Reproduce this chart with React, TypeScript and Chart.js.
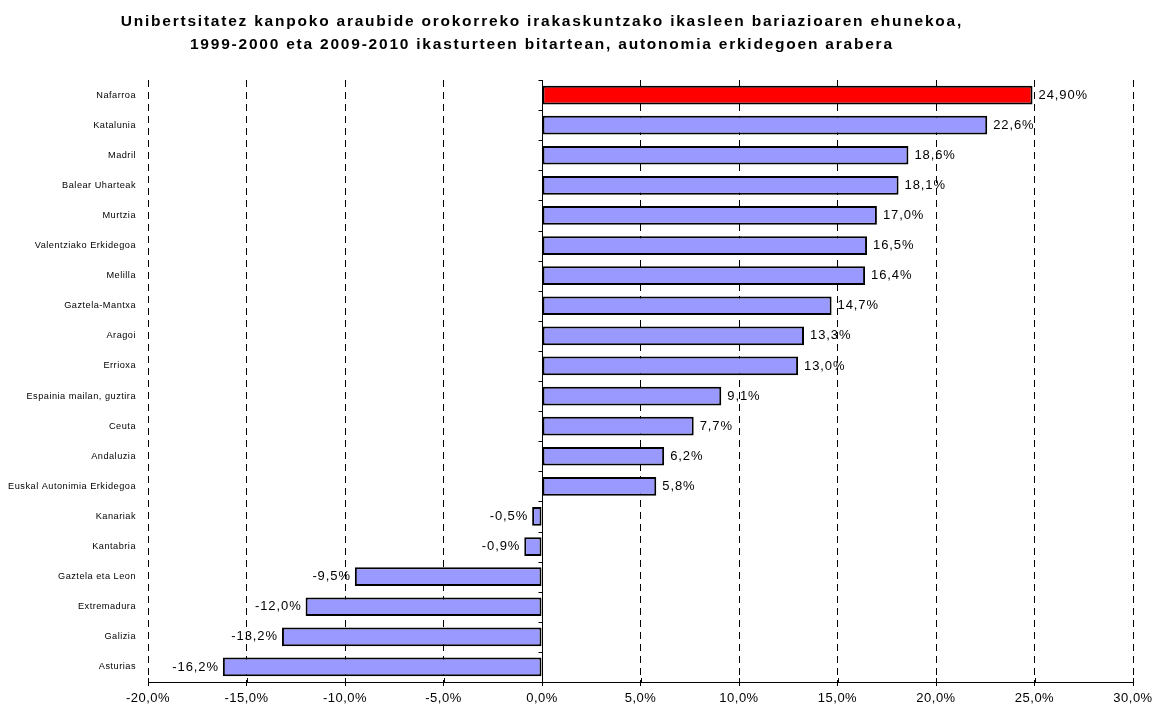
import { useEffect, useRef } from 'react';
import { Chart, registerables } from 'chart.js';

Chart.register(...registerables);

const categories = [
  'Nafarroa',
  'Katalunia',
  'Madril',
  'Balear Uharteak',
  'Murtzia',
  'Valentziako Erkidegoa',
  'Melilla',
  'Gaztela-Mantxa',
  'Aragoi',
  'Errioxa',
  'Espainia mailan, guztira',
  'Ceuta',
  'Andaluzia',
  'Euskal Autonimia Erkidegoa',
  'Kanariak',
  'Kantabria',
  'Gaztela eta Leon',
  'Extremadura',
  'Galizia',
  'Asturias',
];

const values = [24.9, 22.6, 18.6, 18.1, 17.0, 16.5, 16.4, 14.7, 13.3, 13.0, 9.1, 7.7, 6.2, 5.8, -0.5, -0.9, -9.5, -12.0, -13.2, -16.2];

const valueLabels = ['24,90%', '22,6%', '18,6%', '18,1%', '17,0%', '16,5%', '16,4%', '14,7%', '13,3%', '13,0%', '9,1%', '7,7%', '6,2%', '5,8%', '-0,5%', '-0,9%', '-9,5%', '-12,0%', '-13,2%', '-16,2%'];

const highlighted = ['Nafarroa'];

const xMin = -20;
const xMax = 30;
const xStep = 5;

const titleLines = [
  'Unibertsitatez kanpoko araubide orokorreko irakaskuntzako ikasleen bariazioaren ehunekoa,',
  '1999-2000 eta 2009-2010 ikasturteen bitartean, autonomia erkidegoen arabera',
];

const FONT = '"Liberation Sans", Arial, sans-serif';

const fmtPct = (v: number) => v.toFixed(1).replace('.', ',') + '%';

const titlePlugin = {
  id: 'customTitle',
  afterDraw(chart: any) {
    const ctx = chart.ctx;
    ctx.save();
    ctx.font = `bold 15.5px ${FONT}`;
    (ctx as any).letterSpacing = '0px';
    const w0 = ctx.measureText(titleLines[0]).width;
    const spacing = Math.max(0, (842 - w0) / titleLines[0].length);
    (ctx as any).letterSpacing = spacing.toFixed(2) + 'px';
    ctx.fillStyle = '#000';
    ctx.textAlign = 'center';
    ctx.textBaseline = 'middle';
    ctx.fillText(titleLines[0], 541 + spacing / 2, 22);
    ctx.fillText(titleLines[1], 541 + spacing / 2, 45);
    ctx.restore();
  },
};

const letterSpacingPlugin = {
  id: 'letterSpacing',
  beforeDraw(chart: any) {
    (chart.ctx as any).letterSpacing = '0.5px';
  },
};

const axisPlugin = {
  id: 'zeroAxis',
  afterDatasetsDraw(chart: any) {
    const ctx = chart.ctx;
    const x = chart.scales.x;
    const y = chart.scales.y;
    const area = chart.chartArea;
    const x0 = Math.round(x.getPixelForValue(0)) + 0.5;
    ctx.save();
    ctx.strokeStyle = '#000';
    ctx.lineWidth = 1;
    ctx.setLineDash([]);
    ctx.beginPath();
    ctx.moveTo(x0, area.top);
    ctx.lineTo(x0, area.bottom);
    for (let i = 0; i <= categories.length; i++) {
      const py = Math.round(y.getPixelForValue(i - 0.5)) + 0.5;
      ctx.moveTo(x0 - 4, py);
      ctx.lineTo(x0, py);
    }
    for (let v = xMin; v <= xMax; v += xStep) {
      const px = Math.round(x.getPixelForValue(v)) + 0.5;
      ctx.moveTo(px, area.bottom - 4);
      ctx.lineTo(px, area.bottom);
    }
    ctx.stroke();

    ctx.font = `13px ${FONT}`;
    (ctx as any).letterSpacing = '0.9px';
    ctx.fillStyle = '#000';
    ctx.textBaseline = 'middle';
    const meta = chart.getDatasetMeta(0);
    meta.data.forEach((bar: any, i: number) => {
      const v = values[i];
      if (v >= 0) {
        ctx.textAlign = 'left';
        ctx.fillText(valueLabels[i], bar.x + 6, bar.y);
      } else {
        ctx.textAlign = 'right';
        ctx.fillText(valueLabels[i], bar.x - 4, bar.y);
      }
    });
    ctx.restore();
  },
};

export default function App() {
  const ref = useRef<HTMLCanvasElement>(null);

  useEffect(() => {
    if (!ref.current) return;
    const chart = new Chart(ref.current, {
      type: 'bar',
      data: {
        labels: categories,
        datasets: [
          {
            data: values,
            backgroundColor: categories.map((c) => (highlighted.includes(c) ? '#FF0000' : '#9999FF')),
            borderColor: '#000',
            borderWidth: 2,
            borderSkipped: false,
            barPercentage: 0.62,
            categoryPercentage: 1,
          },
        ],
      },
      options: {
        indexAxis: 'y',
        responsive: false,
        animation: false,
        layout: { padding: { top: 80, right: 26, left: 0, bottom: 0 } },
        plugins: {
          legend: { display: false },
          title: { display: false },
          tooltip: { enabled: false },
        },
        scales: {
          x: {
            min: xMin,
            max: xMax,
            ticks: {
              stepSize: xStep,
              callback: (v: any) => fmtPct(Number(v)),
              color: '#000',
              font: { family: FONT, size: 13 },
              padding: 5,
              maxRotation: 0,
            },
            grid: {
              color: '#000',
              lineWidth: 1,
              tickLength: 4,
              tickColor: '#000',
            },
            border: { display: true, color: '#000', width: 1, dash: [7, 5] },
            afterFit: (s: any) => {
              s.height = 27;
            },
          },
          y: {
            ticks: {
              color: '#000',
              font: { family: FONT, size: 9.2 },
              padding: 4,
              autoSkip: false,
            },
            grid: { display: false },
            border: { display: false },
            afterFit: (s: any) => {
              s.width = 148;
            },
          },
        },
      },
      plugins: [letterSpacingPlugin, axisPlugin, titlePlugin],
    });
    return () => chart.destroy();
  }, []);

  return (
    <div style={{ position: 'absolute', left: 0, top: 0, width: 1159, height: 709, background: '#fff' }}>
      <canvas ref={ref} width={1159} height={709} style={{ display: 'block' }} />
    </div>
  );
}
